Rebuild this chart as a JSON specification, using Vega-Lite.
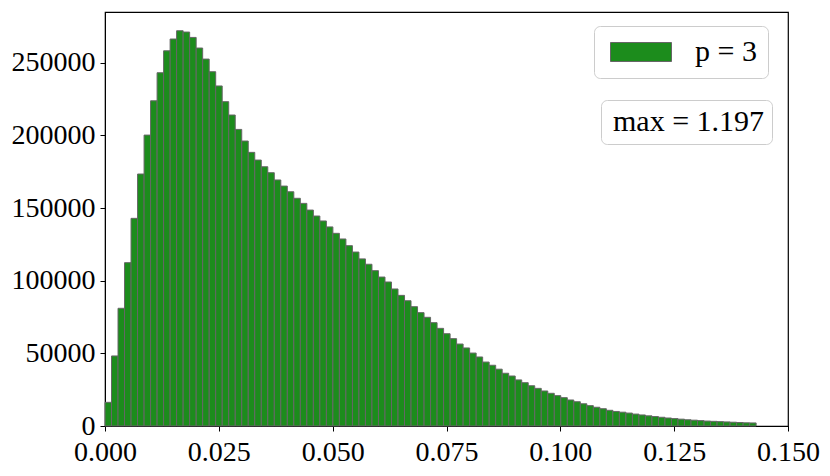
{
  "$schema": "https://vega.github.io/schema/vega-lite/v6.json",
  "autosize": "none",
  "width": 683,
  "height": 414,
  "padding": {"left": 105, "top": 12, "right": 42, "bottom": 50},
  "background": "white",
  "config": {
    "view": {"stroke": "black", "strokeWidth": 1.2},
    "axis": {
      "grid": false,
      "domainColor": "black",
      "tickColor": "black",
      "tickSize": 5,
      "labelFont": "Liberation Serif",
      "labelFontSize": 28,
      "labelColor": "black",
      "title": null
    },
    "legend": {
      "labelFont": "Liberation Serif",
      "labelFontSize": 30,
      "labelColor": "black",
      "fillColor": "white",
      "strokeColor": "#cccccc",
      "cornerRadius": 6,
      "title": null
    }
  },
  "layer": [
    {
      "data": {
        "values": [
          {"a": 0, "b": 0.00143, "n": 16300},
          {"a": 0.00143, "b": 0.00286, "n": 48200},
          {"a": 0.00286, "b": 0.00429, "n": 81000},
          {"a": 0.00429, "b": 0.00572, "n": 112400},
          {"a": 0.00572, "b": 0.00715, "n": 142900},
          {"a": 0.00715, "b": 0.00858, "n": 173400},
          {"a": 0.00858, "b": 0.01001, "n": 200200},
          {"a": 0.01001, "b": 0.01144, "n": 223800},
          {"a": 0.01144, "b": 0.01287, "n": 243100},
          {"a": 0.01287, "b": 0.0143, "n": 258200},
          {"a": 0.0143, "b": 0.01573, "n": 266300},
          {"a": 0.01573, "b": 0.01716, "n": 272000},
          {"a": 0.01716, "b": 0.01859, "n": 271100},
          {"a": 0.01859, "b": 0.02002, "n": 267400},
          {"a": 0.02002, "b": 0.02145, "n": 260100},
          {"a": 0.02145, "b": 0.02288, "n": 252500},
          {"a": 0.02288, "b": 0.02431, "n": 243800},
          {"a": 0.02431, "b": 0.02574, "n": 234000},
          {"a": 0.02574, "b": 0.02717, "n": 223200},
          {"a": 0.02717, "b": 0.0286, "n": 214000},
          {"a": 0.0286, "b": 0.03003, "n": 204100},
          {"a": 0.03003, "b": 0.03146, "n": 196100},
          {"a": 0.03146, "b": 0.03289, "n": 188300},
          {"a": 0.03289, "b": 0.03432, "n": 183000},
          {"a": 0.03432, "b": 0.03575, "n": 178400},
          {"a": 0.03575, "b": 0.03718, "n": 174300},
          {"a": 0.03718, "b": 0.03861, "n": 169300},
          {"a": 0.03861, "b": 0.04004, "n": 165100},
          {"a": 0.04004, "b": 0.04147, "n": 161200},
          {"a": 0.04147, "b": 0.0429, "n": 156700},
          {"a": 0.0429, "b": 0.04433, "n": 153200},
          {"a": 0.04433, "b": 0.04576, "n": 148600},
          {"a": 0.04576, "b": 0.04719, "n": 144500},
          {"a": 0.04719, "b": 0.04862, "n": 141100},
          {"a": 0.04862, "b": 0.05005, "n": 137000},
          {"a": 0.05005, "b": 0.05148, "n": 132600},
          {"a": 0.05148, "b": 0.05291, "n": 128700},
          {"a": 0.05291, "b": 0.05434, "n": 124100},
          {"a": 0.05434, "b": 0.05577, "n": 119700},
          {"a": 0.05577, "b": 0.0572, "n": 115000},
          {"a": 0.0572, "b": 0.05863, "n": 111300},
          {"a": 0.05863, "b": 0.06006, "n": 106900},
          {"a": 0.06006, "b": 0.06149, "n": 102500},
          {"a": 0.06149, "b": 0.06292, "n": 99100},
          {"a": 0.06292, "b": 0.06435, "n": 94300},
          {"a": 0.06435, "b": 0.06578, "n": 89900},
          {"a": 0.06578, "b": 0.06721, "n": 86200},
          {"a": 0.06721, "b": 0.06864, "n": 82100},
          {"a": 0.06864, "b": 0.07007, "n": 78000},
          {"a": 0.07007, "b": 0.0715, "n": 74800},
          {"a": 0.0715, "b": 0.07293, "n": 71100},
          {"a": 0.07293, "b": 0.07436, "n": 67200},
          {"a": 0.07436, "b": 0.07579, "n": 63500},
          {"a": 0.07579, "b": 0.07722, "n": 60100},
          {"a": 0.07722, "b": 0.07865, "n": 56400},
          {"a": 0.07865, "b": 0.08008, "n": 53700},
          {"a": 0.08008, "b": 0.08151, "n": 50200},
          {"a": 0.08151, "b": 0.08294, "n": 47500},
          {"a": 0.08294, "b": 0.08437, "n": 44000},
          {"a": 0.08437, "b": 0.0858, "n": 41800},
          {"a": 0.0858, "b": 0.08723, "n": 39100},
          {"a": 0.08723, "b": 0.08866, "n": 36300},
          {"a": 0.08866, "b": 0.09009, "n": 34400},
          {"a": 0.09009, "b": 0.09152, "n": 31700},
          {"a": 0.09152, "b": 0.09295, "n": 29800},
          {"a": 0.09295, "b": 0.09438, "n": 27700},
          {"a": 0.09438, "b": 0.09581, "n": 25900},
          {"a": 0.09581, "b": 0.09724, "n": 24100},
          {"a": 0.09724, "b": 0.09867, "n": 22500},
          {"a": 0.09867, "b": 0.1001, "n": 20900},
          {"a": 0.1001, "b": 0.10153, "n": 19500},
          {"a": 0.10153, "b": 0.10296, "n": 17900},
          {"a": 0.10296, "b": 0.10439, "n": 16700},
          {"a": 0.10439, "b": 0.10582, "n": 15300},
          {"a": 0.10582, "b": 0.10725, "n": 14000},
          {"a": 0.10725, "b": 0.10868, "n": 12900},
          {"a": 0.10868, "b": 0.11011, "n": 11900},
          {"a": 0.11011, "b": 0.11154, "n": 10800},
          {"a": 0.11154, "b": 0.11297, "n": 10000},
          {"a": 0.11297, "b": 0.1144, "n": 9500},
          {"a": 0.1144, "b": 0.11583, "n": 8900},
          {"a": 0.11583, "b": 0.11726, "n": 8200},
          {"a": 0.11726, "b": 0.11869, "n": 7600},
          {"a": 0.11869, "b": 0.12012, "n": 7000},
          {"a": 0.12012, "b": 0.12155, "n": 6500},
          {"a": 0.12155, "b": 0.12298, "n": 6000},
          {"a": 0.12298, "b": 0.12441, "n": 5500},
          {"a": 0.12441, "b": 0.12584, "n": 5100},
          {"a": 0.12584, "b": 0.12727, "n": 4700},
          {"a": 0.12727, "b": 0.1287, "n": 4300},
          {"a": 0.1287, "b": 0.13013, "n": 4000},
          {"a": 0.13013, "b": 0.13156, "n": 3700},
          {"a": 0.13156, "b": 0.13299, "n": 3400},
          {"a": 0.13299, "b": 0.13442, "n": 3200},
          {"a": 0.13442, "b": 0.13585, "n": 3000},
          {"a": 0.13585, "b": 0.13728, "n": 2800},
          {"a": 0.13728, "b": 0.13871, "n": 2600},
          {"a": 0.13871, "b": 0.14014, "n": 2400},
          {"a": 0.14014, "b": 0.14157, "n": 2200},
          {"a": 0.14157, "b": 0.143, "n": 2100}
        ]
      },
      "mark": {"type": "bar", "stroke": "#666666", "strokeWidth": 1, "opacity": 1},
      "encoding": {
        "x": {
          "field": "a",
          "type": "quantitative",
          "scale": {"domain": [0, 0.15], "nice": false, "zero": false},
          "axis": {
            "values": [0, 0.025, 0.05, 0.075, 0.1, 0.125, 0.15],
            "format": ".3f",
            "labelPadding": 7,
            "labelFlush": false,
            "labelOverlap": false
          }
        },
        "x2": {"field": "b"},
        "y": {
          "field": "n",
          "type": "quantitative",
          "scale": {"domain": [0, 284900], "nice": false},
          "axis": {
            "values": [0, 50000, 100000, 150000, 200000, 250000],
            "format": "d",
            "labelPadding": 5,
            "labelFlush": false,
            "labelOverlap": false
          }
        },
        "y2": {"datum": 0},
        "color": {
          "datum": "p = 3",
          "scale": {"range": ["#1c8c1c"]},
          "legend": {
            "orient": "none",
            "legendX": 489,
            "legendY": 14,
            "padding": 11,
            "symbolType": "M-1,-1H5.42V1H-1Z",
            "symbolSize": 361,
            "symbolStrokeColor": "#666666",
            "symbolStrokeWidth": 1,
            "symbolOpacity": 1,
            "labelOffset": 60
          }
        }
      }
    },
    {
      "data": {"values": [{"t": "max = 1.197"}]},
      "mark": {"type": "point", "opacity": 0},
      "encoding": {
        "shape": {
          "field": "t",
          "type": "nominal",
          "legend": {
            "orient": "none",
            "legendX": 496,
            "legendY": 88,
            "padding": 7,
            "symbolSize": 0,
            "symbolOpacity": 0,
            "labelOffset": -25
          }
        }
      }
    }
  ]
}
